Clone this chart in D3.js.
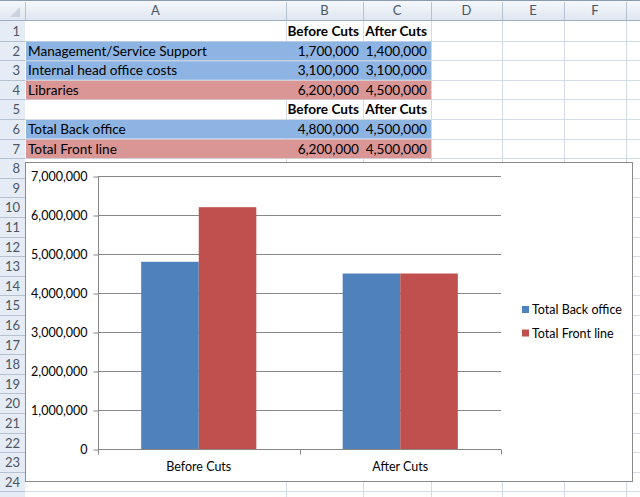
<!DOCTYPE html>
<html>
<head>
<meta charset="utf-8">
<script src="https://cdn.jsdelivr.net/npm/d3@7"></script>
<style>
  body { margin: 0; background: #fff; }
  svg { display: block; }
</style>
</head>
<body>
<div id="sheet"></div>
<script>
// sheet data
const colLetters = ["A", "B", "C", "D", "E", "F"];
const costItems = ["Management/Service Support", "Internal head office costs", "Libraries"];
const itemBefore = [1700000, 3100000, 6200000];
const itemAfter = [1400000, 3100000, 4500000];
const itemGroup = ["back", "back", "front"];

// chart data
const categories = ["Before Cuts", "After Cuts"];
const seriesNames = ["Total Back office", "Total Front line"];
const backOffice = [4800000, 4500000];
const frontLine = [6200000, 4500000];
const yMax = 7000000;

const W = 640, H = 497;
const fontCell = "Lato, 'Open Sans', sans-serif";
const colEdges = [25, 286, 363, 431, 502, 564, 626, 700];
const headerH = 21, rowH = 19.6;
const fills = { back: "#8db4e2", front: "#da9694" };
const fmt = d3.format(",");

const svg = d3.select("#sheet").append("svg")
    .attr("width", W)
    .attr("height", H);

const rowTop = r => headerH + (r - 1) * rowH;

// header gradient
const defs = svg.append("defs");
const grad = defs.append("linearGradient").attr("id", "hdr").attr("x1", 0).attr("y1", 0).attr("x2", 0).attr("y2", 1);
grad.append("stop").attr("offset", "0%").attr("stop-color", "#f6f8fc");
grad.append("stop").attr("offset", "100%").attr("stop-color", "#dfe6f0");

svg.append("rect").attr("width", W).attr("height", H).attr("fill", "#fff");

// column header
svg.append("rect").attr("x", 0).attr("y", 0).attr("width", W).attr("height", headerH).attr("fill", "url(#hdr)");
svg.append("rect").attr("x", 0).attr("y", headerH).attr("width", 25).attr("height", H - headerH).attr("fill", "#e6ecf5");
svg.append("line").attr("x1", 0).attr("x2", W).attr("y1", 0.5).attr("y2", 0.5).attr("stroke", "#8c9cb0");

// corner triangle
svg.append("path").attr("d", "M20,7 L20,17 L10,17 Z").attr("fill", "#c9d2de");

// sheet gridlines
const nRows = 25;
const rows = d3.range(1, nRows + 1);
svg.append("g").selectAll("line")
    .data(rows)
    .join("line")
    .attr("x1", 25).attr("x2", W)
    .attr("y1", r => Math.round(rowTop(r + 1)) + 0.5)
    .attr("y2", r => Math.round(rowTop(r + 1)) + 0.5)
    .attr("stroke", "#d4dbe6");
svg.append("g").selectAll("line")
    .data(colEdges.slice(1))
    .join("line")
    .attr("x1", x => x + 0.5).attr("x2", x => x + 0.5)
    .attr("y1", headerH).attr("y2", H)
    .attr("stroke", "#d4dbe6");

// header separators
svg.append("g").selectAll("line")
    .data(colEdges)
    .join("line")
    .attr("x1", x => x + 0.5).attr("x2", x => x + 0.5)
    .attr("y1", 2).attr("y2", headerH)
    .attr("stroke", "#b6c2d2");
svg.append("g").selectAll("line")
    .data(rows)
    .join("line")
    .attr("x1", 0).attr("x2", 25)
    .attr("y1", r => Math.round(rowTop(r + 1)) + 0.5)
    .attr("y2", r => Math.round(rowTop(r + 1)) + 0.5)
    .attr("stroke", "#b6c2d2");
svg.append("line").attr("x1", 0).attr("x2", W).attr("y1", headerH - 0.5).attr("y2", headerH - 0.5).attr("stroke", "#9eb0c6");

svg.append("g").selectAll("text")
    .data(colLetters)
    .join("text")
    .attr("x", (d, i) => (colEdges[i] + colEdges[i + 1]) / 2)
    .attr("y", 15)
    .attr("text-anchor", "middle")
    .attr("fill", "#4a5566")
    .style("font", `13px ${fontCell}`)
    .text(d => d);

// row numbers (row 25 is only a sliver at the bottom, so no label)
svg.append("g").selectAll("text")
    .data(rows.filter(r => r < nRows))
    .join("text")
    .attr("x", 20)
    .attr("y", r => rowTop(r) + 15)
    .attr("text-anchor", "end")
    .attr("fill", "#4a5566")
    .style("font", `13px ${fontCell}`)
    .text(r => r);

// cell content
const cellW = colEdges[3] - colEdges[0];
function fillRow(r, kind) {
    svg.append("rect")
        .attr("x", colEdges[0] + 1).attr("y", rowTop(r) + 1)
        .attr("width", cellW - 1).attr("height", rowH - 1)
        .attr("fill", fills[kind]);
}
function cellText(r, c, txt, bold, anchor) {
    const right = anchor === "end";
    svg.append("text")
        .attr("x", right ? colEdges[c + 1] - 4 : colEdges[c] + 3)
        .attr("y", rowTop(r) + 15)
        .attr("text-anchor", right ? "end" : "start")
        .attr("fill", "#000")
        .style("font", `${bold ? "bold " : ""}13.6px ${fontCell}`)
        .text(txt);
}

// table 1 (rows 1-4)
categories.forEach((c, j) => cellText(1, j + 1, c, true, "end"));
costItems.forEach((name, i) => {
    const r = i + 2;
    fillRow(r, itemGroup[i]);
    cellText(r, 0, name, false, "start");
    cellText(r, 1, fmt(itemBefore[i]), false, "end");
    cellText(r, 2, fmt(itemAfter[i]), false, "end");
});

// table 2 (rows 5-7)
categories.forEach((c, j) => cellText(5, j + 1, c, true, "end"));
const totals = [backOffice, frontLine];
seriesNames.forEach((name, i) => {
    const r = i + 6;
    fillRow(r, i === 0 ? "back" : "front");
    cellText(r, 0, name, false, "start");
    cellText(r, 1, fmt(totals[i][0]), false, "end");
    cellText(r, 2, fmt(totals[i][1]), false, "end");
});

// ---- chart ----
const chartBox = { x: 25, y: 162, w: 607, h: 319 };
svg.append("rect")
    .attr("x", chartBox.x + 0.5).attr("y", chartBox.y + 0.5)
    .attr("width", chartBox.w).attr("height", chartBox.h)
    .attr("fill", "#fff").attr("stroke", "#8a8a8a");

const plot = { left: 98, right: 501, top: 176, bottom: 449 };
const chartFont = `12.5px ${fontCell}`;

const y = d3.scaleLinear().domain([0, yMax]).range([plot.bottom, plot.top]);
const x0 = d3.scaleBand().domain(categories).range([plot.left, plot.right]).paddingInner(0).paddingOuter(0);
const x1 = d3.scaleBand().domain(seriesNames).range([0, x0.bandwidth()]).paddingInner(0).paddingOuter(0.75);
const color = d3.scaleOrdinal().domain(seriesNames).range(["#4f81bd", "#c0504d"]);

// gridlines
svg.append("g")
    .selectAll("line")
    .data(y.ticks(7).filter(d => d > 0))
    .join("line")
    .attr("x1", plot.left).attr("x2", plot.right)
    .attr("y1", d => Math.round(y(d)) + 0.5).attr("y2", d => Math.round(y(d)) + 0.5)
    .attr("stroke", "#868686");

// bars
const barData = categories.map((c, i) => ({ cat: c, values: [backOffice[i], frontLine[i]] }));
svg.append("g")
    .selectAll("g")
    .data(barData)
    .join("g")
    .attr("transform", d => `translate(${x0(d.cat)},0)`)
    .selectAll("rect")
    .data(d => d.values.map((v, k) => ({ name: seriesNames[k], v })))
    .join("rect")
    .attr("x", d => x1(d.name))
    .attr("y", d => y(d.v))
    .attr("width", x1.bandwidth())
    .attr("height", d => y(0) - y(d.v))
    .attr("fill", d => color(d.name));

// y axis
const yAxis = svg.append("g")
    .attr("transform", `translate(${plot.left + 0.5},0.5)`)
    .call(d3.axisLeft(y).ticks(7).tickFormat(d3.format(",")).tickSize(5).tickPadding(6));
yAxis.select(".domain").attr("stroke", "#868686").attr("d", `M0,${plot.top}V${plot.bottom}`);
yAxis.selectAll(".tick line").attr("stroke", "#868686");
yAxis.selectAll(".tick text").attr("fill", "#000").style("font", chartFont);

// x axis
const xAxis = svg.append("g")
    .attr("transform", `translate(0,${plot.bottom + 0.5})`)
    .call(d3.axisBottom(x0).tickSize(0).tickPadding(13));
xAxis.select(".domain").attr("stroke", "#868686").attr("d", `M${plot.left},0H${plot.right}`);
xAxis.selectAll(".tick text").attr("fill", "#000").style("font", chartFont);
xAxis.selectAll("line.sep")
    .data([plot.left, x0(categories[1]), plot.right])
    .join("line")
    .attr("class", "sep")
    .attr("x1", d => Math.round(d) + 0.5).attr("x2", d => Math.round(d) + 0.5)
    .attr("y1", 0).attr("y2", 5)
    .attr("stroke", "#868686");

// legend
const legend = svg.append("g").attr("transform", "translate(522,306)");
seriesNames.forEach((name, i) => {
    const g = legend.append("g").attr("transform", `translate(0,${i * 23.5})`);
    g.append("rect").attr("width", 7).attr("height", 7).attr("fill", color(name));
    g.append("text")
        .attr("x", 10).attr("y", 8)
        .attr("fill", "#000")
        .style("font", chartFont)
        .text(name);
});
</script>
</body>
</html>
